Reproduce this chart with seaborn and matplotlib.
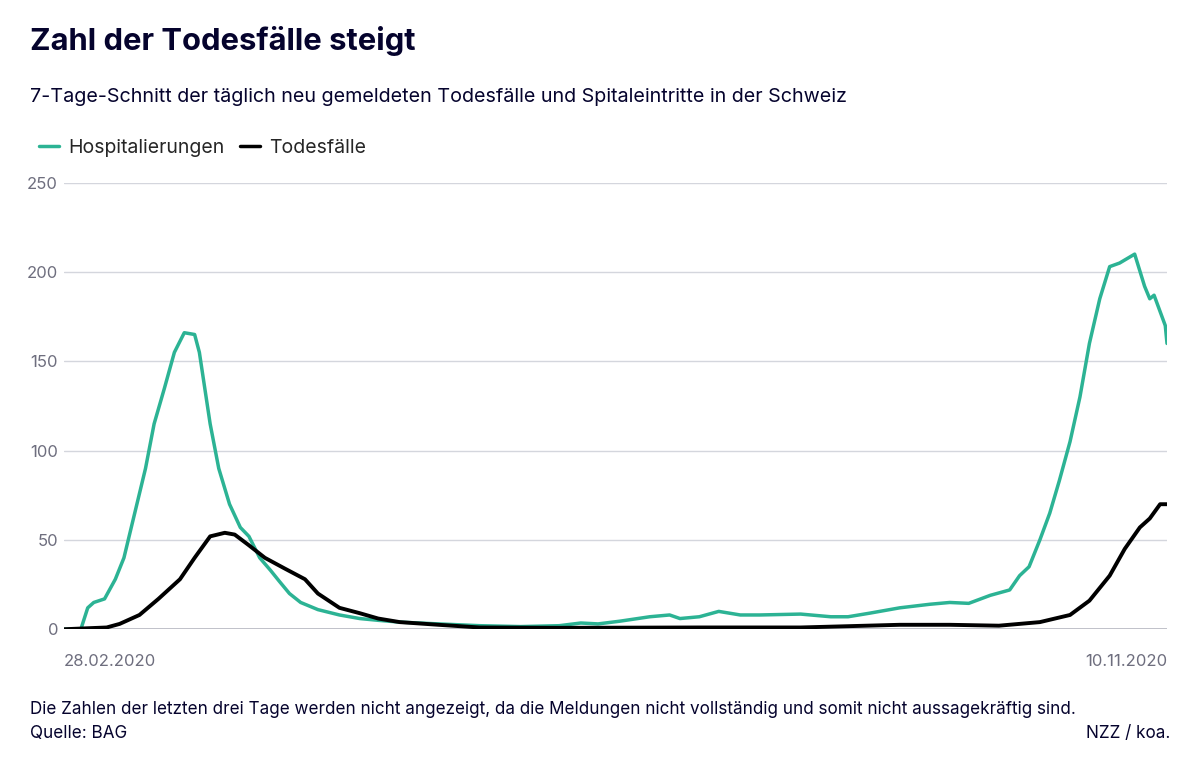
import pandas as pd
import numpy as np
import matplotlib.pyplot as plt
import seaborn as sns
from matplotlib.lines import Line2D

# days since 28.02.2020 and values
hosp_days = [0, 4, 5.6, 7, 9.5, 12, 14, 16.5, 19, 21, 23.4, 25.7, 28, 30.4, 31.5, 34, 36, 38.5, 41, 43,
             45.5, 48, 50, 52.4, 55, 59, 64, 68.7, 73, 78, 87, 96.5, 106, 115, 120, 124, 129, 136, 140.6,
             143, 147.5, 152, 157, 161.5, 171, 178, 182, 187, 194, 201, 205.6, 210, 215, 219.5, 221.8,
             224, 226.5, 228.8, 231, 233.5, 235.8, 238, 240.4, 242.7, 245, 248.5, 250.8, 252, 253, 255.6, 256]
hosp_vals = [0, 0, 12, 15, 17, 28, 40, 65, 90, 115, 135, 155, 166, 165, 155, 115, 90, 70, 57, 52,
             40, 33, 27, 20, 15, 11, 8, 6, 5, 4, 3, 2, 1.5, 2, 3.5, 3, 4.5, 7, 8,
             6, 7, 10, 8, 8, 8.5, 7, 7, 9, 12, 14, 15, 14.5, 19, 22, 30,
             35, 50, 65, 83, 105, 130, 160, 185, 203, 205, 210, 192, 185, 187, 170, 160]
death_days = [0, 10, 13, 17.6, 22, 27, 30.4, 34, 37.4, 39.7, 43, 46.7, 51.3, 56, 59, 64, 68.7, 73, 78,
              87, 96.5, 115, 147.5, 171, 194, 205.6, 217, 226.5, 233.5, 238, 242.7, 246.2, 249.7, 252, 254.4, 256]
death_vals = [0, 1, 3, 8, 17, 28, 40, 52, 54, 53, 47, 40, 34, 28, 20, 12, 9, 6, 4,
              2.5, 1, 0.8, 1, 1, 2.5, 2.5, 2, 4, 8, 16, 30, 45, 57, 62, 70, 70]

start = pd.Timestamp("2020-02-28")
hosp = pd.DataFrame({"datum": start + pd.to_timedelta(hosp_days, unit="D"), "wert": hosp_vals})
death = pd.DataFrame({"datum": start + pd.to_timedelta(death_days, unit="D"), "wert": death_vals})

green = "#2cb394"
txt = "#05032d"
sns.set_style("white")
plt.rcParams["font.family"] = ["Inter", "DejaVu Sans"]

fig = plt.figure(figsize=(12, 7.74), dpi=100)
ax = fig.add_axes([0.053, 0.187, 0.9195, 0.577])
sns.lineplot(data=hosp, x="datum", y="wert", color=green, lw=2.5, ax=ax)
sns.lineplot(data=death, x="datum", y="wert", color="black", lw=2.8, ax=ax)

ax.set_xlim(start, pd.Timestamp("2020-11-10"))
ax.set_ylim(0, 250)
ax.set_yticks([0, 50, 100, 150, 200, 250])
ax.set_xticks([start, pd.Timestamp("2020-11-10")])
ax.set_xticklabels(["28.02.2020", "10.11.2020"])
ax.xaxis.get_majorticklabels()[0].set_ha("left")
ax.xaxis.get_majorticklabels()[1].set_ha("right")
ax.set_xlabel("")
ax.set_ylabel("")
ax.grid(axis="y", color="#d4d6dd", lw=1)
ax.axhline(0, color="#b0b2bb", lw=1.2, zorder=0)
for s in ax.spines.values():
    s.set_visible(False)
ax.tick_params(axis="y", length=0, labelsize=12, labelcolor="#6e6e7e", pad=4)
ax.tick_params(axis="x", length=6, color="#b0b2bb", labelsize=12, labelcolor="#6e6e7e", pad=12)
ax.set_axisbelow(True)

fig.text(0.025, 0.935, "Zahl der Todesfälle steigt", fontsize=22.3, fontweight="bold", color=txt)
fig.text(0.025, 0.868, "7-Tage-Schnitt der täglich neu gemeldeten Todesfälle und Spitaleintritte in der Schweiz",
         fontsize=14.2, color=txt)
handles = [Line2D([], [], color=green, lw=2.5), Line2D([], [], color="black", lw=2.5)]
fig.legend(handles, ["Hospitalierungen", "Todesfälle"], loc="upper left", bbox_to_anchor=(0.018, 0.843),
           ncol=2, frameon=False, fontsize=14, handlelength=1.0, columnspacing=0.8, handletextpad=0.5)
fig.text(0.025, 0.077, "Die Zahlen der letzten drei Tage werden nicht angezeigt, da die Meldungen nicht vollständig und somit nicht aussagekräftig sind.",
         fontsize=12.3, color=txt)
fig.text(0.025, 0.047, "Quelle: BAG", fontsize=12.3, color=txt)
fig.text(0.975, 0.047, "NZZ / koa.", fontsize=12.3, color=txt, ha="right")

fig.savefig("out.png", dpi=100)
